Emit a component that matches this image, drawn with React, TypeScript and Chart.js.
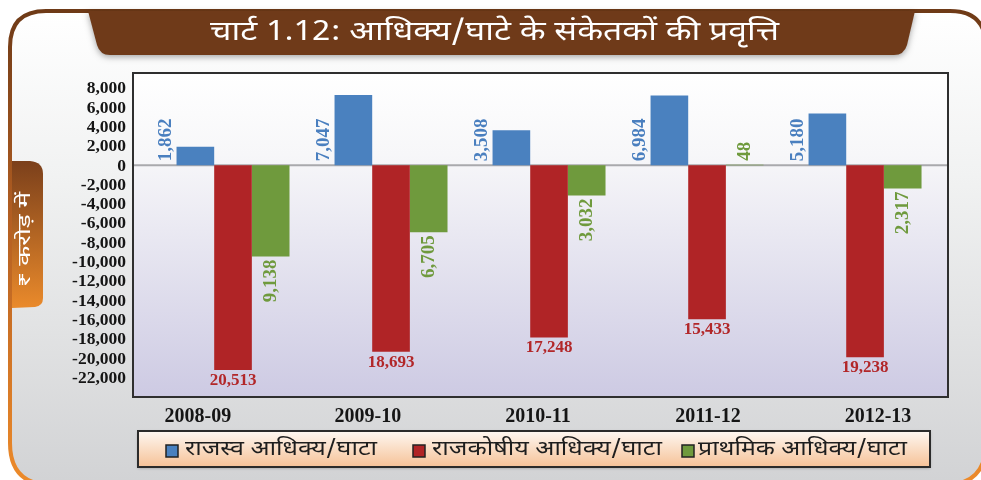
import React, { useEffect, useRef } from 'react';
import { Chart, registerables } from 'chart.js';

Chart.register(...registerables);

// ---------- data ----------
const categories = ['2008-09', '2009-10', '2010-11', '2011-12', '2012-13'];
const revenueBalance = [1862, 7047, 3508, 6984, 5180];
const fiscalBalance = [-20513, -18693, -17248, -15433, -19238];
const primaryBalance = [-9138, -6705, -3032, 48, -2317];
const seriesNames = ['राजस्व आधिक्य/घाटा', 'राजकोषीय आधिक्य/घाटा', 'प्राथमिक आधिक्य/घाटा'];
const yTickValues = [8000, 6000, 4000, 2000, 0, -2000, -4000, -6000, -8000, -10000, -12000, -14000, -16000, -18000, -20000, -22000];
const titleText = 'चार्ट 1.12: आधिक्य/घाटे के संकेतकों की प्रवृत्ति';
const unitText = '₹ करोड़ में';

// ---------- styles ----------
const barColors = ['#4a81bf', '#b02426', '#6f9a3d'];
const labelColors = ['#4a7fbf', '#b22729', '#6f9a3d'];
const labelModes = ['beside', 'below', 'along'];
const DEVA = '"Noto Sans Devanagari", "Lohit Devanagari", "FreeSans", "Noto Sans", sans-serif';
const SERIF = '"Liberation Serif", "Times New Roman", serif';

function fitText(ctx: CanvasRenderingContext2D, text: string, x: number, y: number, targetW: number) {
  const w = ctx.measureText(text).width;
  const sx = w > 0 ? targetW / w : 1;
  ctx.save();
  ctx.translate(x, y);
  ctx.scale(sx, 1);
  ctx.textAlign = 'left';
  ctx.fillText(text, 0, 0);
  ctx.restore();
}

function roundRectPath(ctx: CanvasRenderingContext2D, x: number, y: number, w: number, h: number, rTop: number, rBottom: number) {
  ctx.beginPath();
  ctx.moveTo(x + rTop, y);
  ctx.lineTo(x + w - rTop, y);
  ctx.quadraticCurveTo(x + w, y, x + w, y + rTop);
  ctx.lineTo(x + w, y + h - rBottom);
  ctx.quadraticCurveTo(x + w, y + h, x + w - rBottom, y + h);
  ctx.lineTo(x + rBottom, y + h);
  ctx.quadraticCurveTo(x, y + h, x, y + h - rBottom);
  ctx.lineTo(x, y + rTop);
  ctx.quadraticCurveTo(x, y, x + rTop, y);
  ctx.closePath();
}

const decorPlugin = {
  id: 'decor',
  beforeDraw(chart: any) {
    const ctx: CanvasRenderingContext2D = chart.ctx;
    const W = chart.width;
    const H = chart.height;
    const ca = chart.chartArea;
    ctx.save();
    ctx.fillStyle = '#ffffff';
    ctx.fillRect(0, 0, W, H);

    // frame
    const bg = ctx.createLinearGradient(0, 12, 0, H);
    bg.addColorStop(0, '#ffffff');
    bg.addColorStop(0.35, '#f1f2f2');
    bg.addColorStop(1, '#d2d3d5');
    roundRectPath(ctx, 10, 11, 976, 474, 36, 42);
    ctx.fillStyle = bg;
    ctx.fill();
    const fr = ctx.createLinearGradient(0, 10, 0, H);
    fr.addColorStop(0, '#6e3a17');
    fr.addColorStop(0.45, '#b45f22');
    fr.addColorStop(1, '#ec8a2a');
    ctx.strokeStyle = fr;
    ctx.lineWidth = 4;
    ctx.stroke();

    // title banner
    ctx.save();
    ctx.shadowColor = 'rgba(0,0,0,0.35)';
    ctx.shadowBlur = 6;
    ctx.shadowOffsetY = 2;
    ctx.beginPath();
    ctx.moveTo(88, 11);
    ctx.lineTo(915, 11);
    ctx.lineTo(907, 45);
    ctx.quadraticCurveTo(904, 55, 894, 55);
    ctx.lineTo(110, 55);
    ctx.quadraticCurveTo(100, 55, 97, 45);
    ctx.closePath();
    ctx.fillStyle = '#6f3a19';
    ctx.fill();
    ctx.restore();
    ctx.fillStyle = '#ffffff';
    ctx.font = '27px ' + DEVA;
    ctx.textBaseline = 'middle';
    fitText(ctx, titleText, 210, 35, 569);

    // unit tab on the left
    const tg = ctx.createLinearGradient(0, 161, 0, 308);
    tg.addColorStop(0, '#7b401b');
    tg.addColorStop(1, '#ea8a2b');
    ctx.beginPath();
    ctx.moveTo(12, 161);
    ctx.lineTo(30, 161);
    ctx.quadraticCurveTo(43, 162, 43, 174);
    ctx.lineTo(43, 298);
    ctx.quadraticCurveTo(43, 306, 35, 307);
    ctx.lineTo(12, 308);
    ctx.closePath();
    ctx.fillStyle = tg;
    ctx.fill();
    ctx.save();
    ctx.translate(27, 240);
    ctx.rotate(-Math.PI / 2);
    ctx.fillStyle = '#ffffff';
    ctx.font = '18px ' + DEVA;
    ctx.textBaseline = 'middle';
    fitText(ctx, unitText, -47, 0, 95);
    ctx.restore();

    // plot area background
    const pg = ctx.createLinearGradient(0, ca.top, 0, ca.bottom);
    pg.addColorStop(0, '#ffffff');
    pg.addColorStop(0.25, '#f7f7f9');
    pg.addColorStop(1, '#cdcae3');
    ctx.fillStyle = pg;
    ctx.fillRect(ca.left, ca.top, ca.right - ca.left, ca.bottom - ca.top);
    ctx.restore();
  },
  beforeDatasetsDraw(chart: any) {
    const ctx: CanvasRenderingContext2D = chart.ctx;
    const ca = chart.chartArea;
    const y0 = chart.scales.y.getPixelForValue(0);
    ctx.save();
    ctx.strokeStyle = '#a9a9ad';
    ctx.lineWidth = 2;
    ctx.beginPath();
    ctx.moveTo(ca.left, y0);
    ctx.lineTo(ca.right, y0);
    ctx.stroke();
    ctx.restore();
  },
  afterDatasetsDraw(chart: any) {
    const ctx: CanvasRenderingContext2D = chart.ctx;
    chart.data.datasets.forEach((ds: any, di: number) => {
      const meta = chart.getDatasetMeta(di);
      meta.data.forEach((bar: any, i: number) => {
        const v = ds.data[i].y;
        const txt = Math.abs(v).toLocaleString('en-US');
        const p = bar.getProps(['x', 'y', 'base', 'width'], true);
        const mode = labelModes[di];
        ctx.save();
        ctx.fillStyle = labelColors[di];
        if (mode === 'below') {
          ctx.font = 'bold 17px ' + SERIF;
          ctx.textAlign = 'center';
          ctx.textBaseline = 'top';
          ctx.fillText(txt, p.x, Math.max(p.y, p.base) + 2);
        } else {
          ctx.font = 'bold 19px ' + SERIF;
          ctx.textBaseline = 'middle';
          let ax = p.x;
          let ay: number;
          if (mode === 'beside') {
            ax = p.x - p.width / 2 - 10;
            ay = p.base - 4;
            ctx.textAlign = 'left';
          } else if (v >= 0) {
            ay = Math.min(p.y, p.base) - 4;
            ctx.textAlign = 'left';
          } else {
            ay = p.y + 3;
            ctx.textAlign = 'right';
          }
          ctx.translate(ax, ay);
          ctx.rotate(-Math.PI / 2);
          ctx.fillText(txt, 0, 0);
        }
        ctx.restore();
      });
    });
  },
  afterDraw(chart: any) {
    const ctx: CanvasRenderingContext2D = chart.ctx;
    const ca = chart.chartArea;
    ctx.save();
    // plot border
    ctx.strokeStyle = '#2f2f2f';
    ctx.lineWidth = 2;
    ctx.strokeRect(ca.left, ca.top, ca.right - ca.left, ca.bottom - ca.top);

    // legend box
    const lg = ctx.createLinearGradient(0, 431, 0, 467);
    lg.addColorStop(0, '#fef8f2');
    lg.addColorStop(1, '#f6c297');
    ctx.save();
    ctx.shadowColor = 'rgba(0,0,0,0.3)';
    ctx.shadowBlur = 3;
    ctx.shadowOffsetY = 1;
    ctx.fillStyle = lg;
    ctx.fillRect(138, 431, 792, 36);
    ctx.restore();
    ctx.strokeStyle = '#2b2b2b';
    ctx.lineWidth = 2;
    ctx.strokeRect(138, 431, 792, 36);

    const markerX = [166, 413, 682];
    const textX = [185, 432, 698];
    const textW = [192, 230, 209];
    seriesNames.forEach((name, k) => {
      ctx.fillStyle = barColors[k];
      ctx.fillRect(markerX[k], 445, 12, 12);
      ctx.strokeStyle = '#222222';
      ctx.lineWidth = 1.5;
      ctx.strokeRect(markerX[k], 445, 12, 12);
      ctx.fillStyle = '#1e1e1e';
      ctx.font = '20px ' + DEVA;
      ctx.textBaseline = 'middle';
      fitText(ctx, name, textX[k], 451, textW[k]);
    });
    ctx.restore();
  },
};

export default function App() {
  const ref = useRef<HTMLCanvasElement | null>(null);
  useEffect(() => {
    if (!ref.current) return;
    const series = [revenueBalance, fiscalBalance, primaryBalance];
    const chart = new Chart(ref.current, {
      type: 'bar',
      data: {
        datasets: series.map((vals, k) => ({
          label: seriesNames[k],
          data: vals.map((v, i) => ({ x: i, y: v })),
          backgroundColor: barColors[k],
          borderWidth: 0,
          categoryPercentage: 0.715,
          barPercentage: 1.0,
          xAxisID: 'x',
          yAxisID: 'y',
        })),
      },
      options: {
        responsive: false,
        animation: false,
        devicePixelRatio: 1,
        layout: { padding: { top: 73, right: 33, left: 0, bottom: 0 } },
        plugins: { legend: { display: false }, tooltip: { enabled: false }, title: { display: false } },
        scales: {
          x: {
            type: 'linear',
            display: false,
            offset: false,
            min: -0.633,
            max: 4.525,
            afterBuildTicks: (scale: any) => {
              scale.ticks = categories.map((_, i) => ({ value: i }));
            },
          },
          xl: {
            type: 'linear',
            position: 'bottom',
            axis: 'x',
            offset: false,
            min: -0.382,
            max: 4.412,
            grid: { display: false, drawTicks: false },
            border: { display: false },
            afterBuildTicks: (scale: any) => {
              scale.ticks = categories.map((_, i) => ({ value: i }));
            },
            afterFit: (scale: any) => {
              scale.height = 83;
            },
            ticks: {
              autoSkip: false,
              maxRotation: 0,
              padding: 8,
              color: '#151515',
              font: { family: SERIF, size: 20, weight: 'bold' },
              callback: (value: any) => categories[value as number] ?? '',
            },
          },
          y: {
            type: 'linear',
            display: false,
            min: -23220,
            max: 9250,
          },
          yt: {
            type: 'linear',
            position: 'left',
            axis: 'y',
            min: -23900,
            max: 9620,
            grid: { display: false, drawTicks: false },
            border: { display: false },
            afterBuildTicks: (scale: any) => {
              scale.ticks = yTickValues.map((v) => ({ value: v }));
            },
            afterFit: (scale: any) => {
              scale.width = 133;
            },
            ticks: {
              autoSkip: false,
              padding: 7,
              color: '#151515',
              font: { family: SERIF, size: 17.5, weight: 'bold' },
              callback: (value: any) => Number(value).toLocaleString('en-US'),
            },
          },
        },
      },
      plugins: [decorPlugin],
    } as any);
    return () => chart.destroy();
  }, []);
  return (
    <div style={{ position: 'absolute', left: 0, top: 0, width: 981, height: 480 }}>
      <canvas ref={ref} width={981} height={480} style={{ display: 'block', width: 981, height: 480 }} />
    </div>
  );
}
